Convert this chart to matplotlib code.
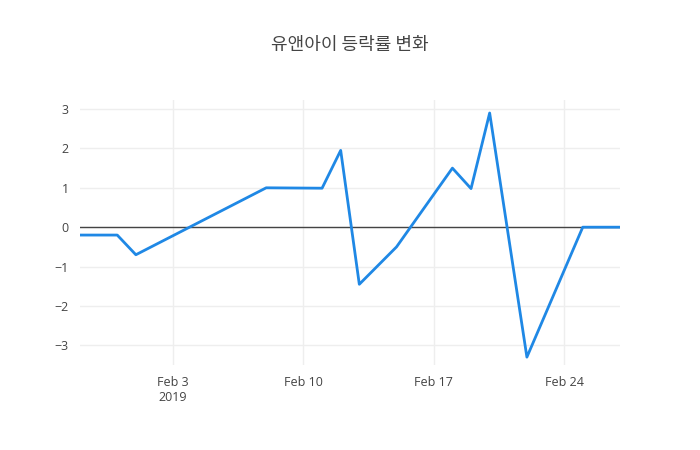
import matplotlib
matplotlib.use("Agg")
import matplotlib.pyplot as plt
import matplotlib.dates as mdates
import pandas as pd

plt.rcParams['font.family'] = ['Open Sans', 'Noto Sans CJK KR', 'DejaVu Sans']

dates = pd.to_datetime(["2019-01-29", "2019-01-31", "2019-02-01", "2019-02-08",
                        "2019-02-11", "2019-02-12", "2019-02-13", "2019-02-15",
                        "2019-02-18", "2019-02-19", "2019-02-20", "2019-02-22",
                        "2019-02-25", "2019-02-27"])
rates = [-0.2, -0.2, -0.7, 1.0, 0.99, 1.95, -1.45, -0.5, 1.5, 0.98, 2.9, -3.3, 0.0, 0.0]
tick_dates = pd.to_datetime(["2019-02-03", "2019-02-10", "2019-02-17", "2019-02-24"])
tick_labels = ["Feb 3\n2019", "Feb 10", "Feb 17", "Feb 24"]

fig = plt.figure(figsize=(7, 4.5), dpi=100)
ax = fig.add_axes([80/700, 1 - 365/450, 540/700, 265/450])

ax.plot(dates, rates, color='#1f88e5', linewidth=2, zorder=3)
ax.axhline(0, color='#444444', linewidth=1, zorder=2)

ax.set_xlim(dates[0], dates[-1])
ax.set_ylim(-3.5, 3.23)
ax.set_yticks([-3, -2, -1, 0, 1, 2, 3])
ax.set_yticklabels(['−3', '−2', '−1', '0', '1', '2', '3'])
ax.set_xticks(tick_dates)
ax.set_xticklabels(tick_labels)
ax.grid(True, color='#eeeeee', linewidth=1)
for s in ax.spines.values():
    s.set_visible(False)
ax.tick_params(length=0, colors='#444444', labelsize=9, pad=8)

fig.text(0.5, 1 - 45/450, "유앤아이 등락률 변화", ha='center', va='center',
         fontsize=13, color='#444444', family=['Noto Sans CJK KR', 'DejaVu Sans'])

fig.savefig("out.png", dpi=100)
